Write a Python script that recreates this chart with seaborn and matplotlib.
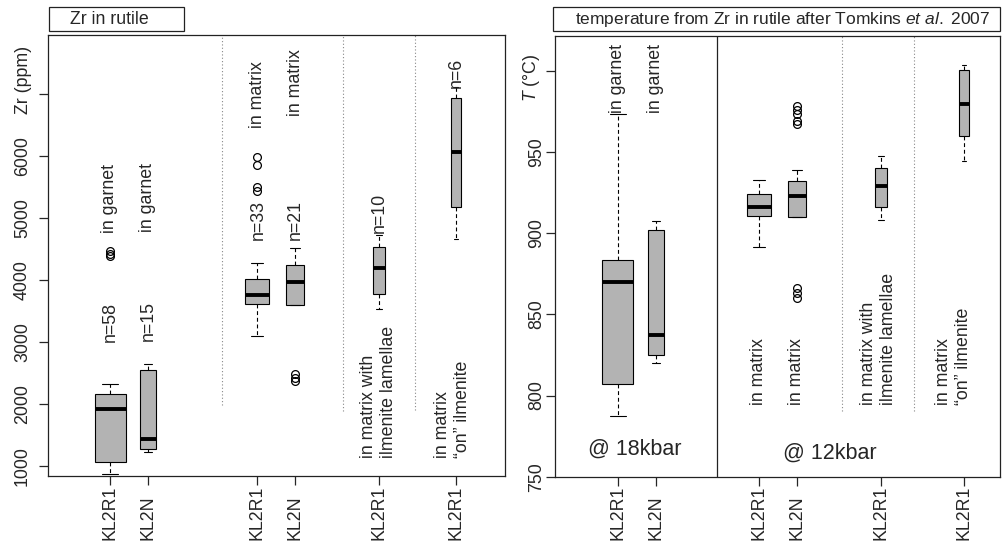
import numpy as np
import matplotlib
matplotlib.use("Agg")
import matplotlib.pyplot as plt
from matplotlib.patches import Rectangle
from matplotlib.transforms import blended_transform_factory
import seaborn as sns

# ---------------- data ----------------
samples = ["KL2R1", "KL2N", "KL2R1", "KL2N", "KL2R1", "KL2R1"]
n_counts = [58, 15, 33, 21, 10, 6]

zr_whisk_lo = [870, 1221, 3102, 3597, 3527, 4661]
zr_q1 = [1060, 1270, 3613, 3597, 3774, 5182]
zr_median = [1916, 1431, 3753, 3963, 4189, 6069]
zr_q3 = [2163, 2551, 4011, 4242, 4527, 6931]
zr_whisk_hi = [2320, 2653, 4269, 4511, 4726, 7108]
zr_outliers = [[4470, 4420, 4380], [], [5980, 5860, 5500, 5440],
               [2480, 2420, 2370], [], []]

t_whisk_lo = [787.6, 820.3, 891.6, 909.7, 907.8, 944.2]
t_q1 = [807.0, 825.0, 910.7, 909.7, 915.8, 959.6]
t_median = [869.6, 837.4, 915.8, 922.6, 929.2, 979.8]
t_q3 = [883.6, 902.1, 924.1, 931.9, 940.1, 1000.3]
t_whisk_hi = [973.4, 907.2, 932.5, 939.1, 947.3, 1003.8]
t_outliers = [[], [], [], [978.0, 976.0, 973.5, 969.0, 967.0, 866.0, 863.0, 860.0],
              [], []]

zr_ticks = [1000, 2000, 3000, 4000, 5000, 6000, 7000]
zr_ticklabels = ["1000", "2000", "3000", "4000", "5000", "6000", ""]
t_ticks = [750, 800, 850, 900, 950, 1000]
t_ticklabels = ["750", "800", "850", "900", "950", ""]

# ---------------- style ----------------
sns.set_style("ticks")
plt.rcParams["font.family"] = ["Liberation Sans", "DejaVu Sans"]
plt.rcParams["mathtext.fontset"] = "custom"
plt.rcParams["mathtext.rm"] = "Liberation Sans"
plt.rcParams["mathtext.it"] = "Liberation Sans:italic"
FS = 12.8
BOX_GREY = "#b3b3b3"

W, H = 1002, 547
fig = plt.figure(figsize=(W / 100, H / 100), dpi=100)


def px_axes(l, t, r, b):
    return fig.add_axes([l / W, 1 - b / H, (r - l) / W, (b - t) / H])


axL = px_axes(48, 35, 505, 476)
axR = px_axes(555, 36, 1000, 476.7)

# layout positions (x in a pixel-like coordinate of each panel)
posL = [110, 148, 257, 295, 379, 456]
posR = [618, 656, 759, 797, 881, 964]
MAX_W = 31


def sample_from_stats(lo, q1, med, q3, hi, outs):
    """Sample whose boxplot statistics equal the given summary values."""
    low = sorted(o for o in outs if o < q1)
    high = sorted(o for o in outs if o > q3)
    m = max(len(low), len(high)) + 1
    vals = (low + [lo] * (m - len(low)) + [q1] * m + [med] * m
            + [q3] + [hi] * (m - len(high)) + high)
    return np.array(vals, dtype=float)


box_style = dict(
    orient="x", native_scale=True, color=BOX_GREY, linecolor="black",
    linewidth=0.8, saturation=1, fill=True,
    whiskerprops=dict(linestyle=(0, (3.5, 2.5))),
    medianprops=dict(linewidth=2.8),
    flierprops=dict(marker="o", markerfacecolor="none", markeredgecolor="black",
                    markeredgewidth=0.9, markersize=5.6),
)


def draw_boxes(ax, pos, lo, q1, med, q3, hi, outs):
    for i in range(len(pos)):
        vals = sample_from_stats(lo[i], q1[i], med[i], q3[i], hi[i], outs[i])
        w = MAX_W * np.sqrt(n_counts[i] / max(n_counts))
        sns.boxplot(x=np.full(len(vals), float(pos[i])), y=vals, width=w,
                    ax=ax, **box_style)


draw_boxes(axL, posL, zr_whisk_lo, zr_q1, zr_median, zr_q3, zr_whisk_hi, zr_outliers)
draw_boxes(axR, posR, t_whisk_lo, t_q1, t_median, t_q3, t_whisk_hi, t_outliers)

axL.set_xlim(48, 505)
axL.set_ylim(838.7, 7951.6)
axR.set_xlim(555, 1000)
axR.set_ylim(750, 1021.4)

for ax, pos, yt, ytl, ypad in [(axL, posL, zr_ticks, zr_ticklabels, 6.0),
                               (axR, posR, t_ticks, t_ticklabels, 0.5)]:
    for s in ax.spines.values():
        s.set_visible(True)
        s.set_linewidth(0.9)
        s.set_color("#222222")
    ax.set_xticks(pos)
    ax.set_xticklabels(samples, rotation=90, fontsize=FS)
    ax.set_yticks(yt)
    ax.set_yticklabels(ytl, fontsize=FS)
    ax.tick_params(axis="x", length=6.3, width=0.9, pad=39.5, direction="out")
    ax.tick_params(axis="y", length=6.3, width=0.9, pad=ypad, direction="out")
    for lbl in ax.get_xticklabels():
        lbl.set_va("bottom")
        lbl.set_ha("center")
    for lbl in ax.get_yticklabels():
        lbl.set_rotation(90)
        lbl.set_va("center")
        lbl.set_ha("right")
    ax.set_xlabel("")

axL.set_ylabel("Zr (ppm)", fontsize=FS, rotation=90, va="center", ha="center")
axL.yaxis.set_label_coords(-0.0547, 0.898)
axR.set_ylabel("$T$ (°C)", fontsize=FS, rotation=90, va="center", ha="center")
axR.yaxis.set_label_coords(-0.0517, 0.905)

# separators
for x, ymax in [(222, 0.161), (343, 0.147), (415, 0.150)]:
    axL.axvline(x, ymin=ymax, ymax=1, color="#888888", lw=0.8, ls=(0, (1, 2)))
axR.axvline(717, color="#222222", lw=0.9)
for x in [842, 914]:
    axR.axvline(x, ymin=0.149, ymax=1, color="#888888", lw=0.8, ls=(0, (1, 2)))

# annotations
trL = blended_transform_factory(axL.transData, axL.transAxes)
trR = blended_transform_factory(axR.transData, axR.transAxes)
txt = dict(rotation=90, ha="center", va="bottom", fontsize=FS,
           multialignment="left", linespacing=1.3)
notesL = [
    (110, 0.3045, "n=58"), (148, 0.306, "n=15"),
    (110, 0.551, "in garnet"), (148, 0.554, "in garnet"),
    (258, 0.535, "n=33"), (295, 0.535, "n=21"),
    (258, 0.789, "in matrix"), (295, 0.816, "in matrix"),
    (379, 0.551, "n=10"), (456, 0.880, "n=6"),
    (378.5, 0.041, "in matrix with\nilmenite lamellae"),
    (452.5, 0.041, "in matrix\n\u201con\u201d ilmenite"),
]
for x, y, s in notesL:
    axL.text(x, y, s, transform=trL, **txt)
notesR = [
    (618, 0.825, "in garnet"), (656, 0.825, "in garnet"),
    (759, 0.163, "in matrix"), (797, 0.163, "in matrix"),
    (878.5, 0.163, "in matrix with\nilmenite lamellae"),
    (953.5, 0.163, "in matrix\n\u201con\u201d ilmenite"),
]
for x, y, s in notesR:
    axR.text(x, y, s, transform=trR, **txt)
axR.text(635, 0.063, "@ 18kbar", transform=trR, ha="center", va="center", fontsize=15.5)
axR.text(830, 0.054, "@ 12kbar", transform=trR, ha="center", va="center", fontsize=15.5)

# panel titles in boxes
for (x0, x1), (tx, s, fs) in [((49, 184), (70, "Zr in rutile", FS)),
                              ((553, 1000), (575, "temperature from Zr in rutile after Tomkins $\\mathit{et\\ al.}$ 2007", 12.5))]:
    fig.add_artist(Rectangle((x0 / W, 1 - 31 / H), (x1 - x0) / W, 24 / H,
                             transform=fig.transFigure, fill=False,
                             lw=0.9, edgecolor="#222222"))
    fig.text(tx / W, 1 - 19.5 / H, s, ha="left", va="center", fontsize=fs)

fig.savefig("out.png", dpi=100)
